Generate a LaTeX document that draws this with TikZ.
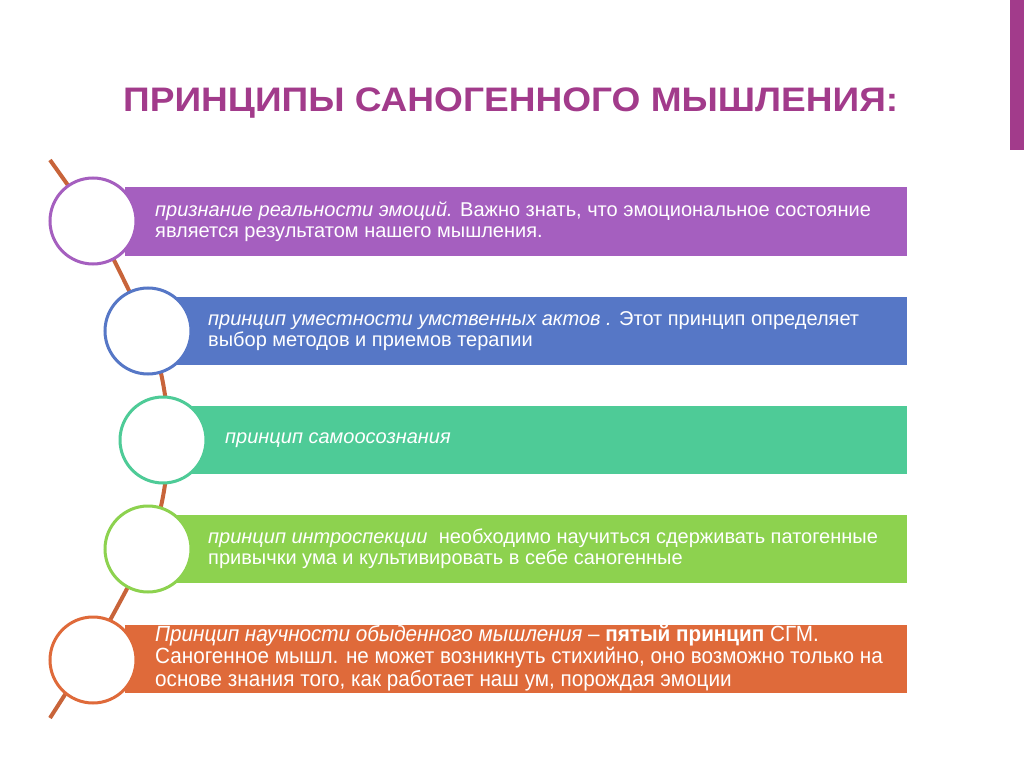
\documentclass[tikz,border=0pt]{standalone}
\usepackage{fontspec}
\usepackage{graphicx}
\setmainfont{Liberation Sans}
\begin{document}
\begin{tikzpicture}[x=1pt,y=-1pt]
\definecolor{cP}{HTML}{A55FBF}
\definecolor{cB}{HTML}{5677C6}
\definecolor{cT}{HTML}{4ECB97}
\definecolor{cG}{HTML}{8DD24F}
\definecolor{cO}{HTML}{DF6A3A}
\definecolor{cW}{HTML}{C8643A}
\definecolor{cTitle}{HTML}{A23B8B}
\tikzset{
 circ/.style={circle,draw,line width=3pt,fill=white,minimum size=86pt,inner sep=0pt},
 txt/.style={anchor=west,text=white,font=\fontsize{20}{21}\selectfont,align=left,inner sep=0pt}}
\useasboundingbox (0,0) rectangle (1024,767);
\fill[white] (0,0) rectangle (1024,767);
\fill[cTitle] (1010,0) rectangle (1024,150);
\node[anchor=west,text=cTitle,font=\bfseries\fontsize{34}{36}\selectfont,inner sep=0pt] (title) at (123,103) {\scalebox{1.09}[1]{ПРИНЦИПЫ САНОГЕННОГО МЫШЛЕНИЯ:}};
% wire
\coordinate (w0) at (50,160);
\coordinate (w1) at (50,718);
\draw[cW,line width=4pt] (w0) .. controls (100,230) .. (148,330) .. controls (175,400) and (175,480) .. (148,549) .. controls (100,640) .. (w1);
% bars
\fill[cP] (125,187) rectangle (907,256);
\fill[cB] (170,297) rectangle (907,365);
\fill[cT] (185,406) rectangle (907,474);
\fill[cG] (170,515) rectangle (907,583);
\fill[cO] (125,625) rectangle (907,693);
\node[circ,draw=cP] (c1) at (93,221) {};
\node[circ,draw=cB] (c2) at (148,331) {};
\node[circ,draw=cT] (c3) at (163,440) {};
\node[circ,draw=cG] (c4) at (148,549) {};
\node[circ,draw=cO] (c5) at (93,660) {};
\node[txt] (t1) at (155,222) {\textit{признание реальности эмоций.} Важно знать, что эмоциональное состояние\\является результатом нашего мышления.};
\node[txt] (t2) at (208,331) {\textit{принцип уместности умственных актов .} Этот принцип определяет\\выбор методов и приемов терапии};
\node[txt] (t3) at (225,440) {\textit{принцип самоосознания}};
\node[txt] (t4) at (208,549) {\textit{принцип интроспекции}\ \ необходимо научиться сдерживать патогенные\\привычки ума и культивировать в себе саногенные};
\node[txt,font=\fontsize{22}{22}\selectfont] (t5) at (155,659) {\scalebox{0.94}[1]{\begin{tabular}{@{}l@{}}\textit{Принцип научности обыденного мышления} – \textbf{пятый принцип} СГМ.\\Саногенное мышл. не может возникнуть стихийно, оно возможно только на\\основе знания того, как работает наш ум, порождая эмоции\end{tabular}}};
\end{tikzpicture}
\end{document}
